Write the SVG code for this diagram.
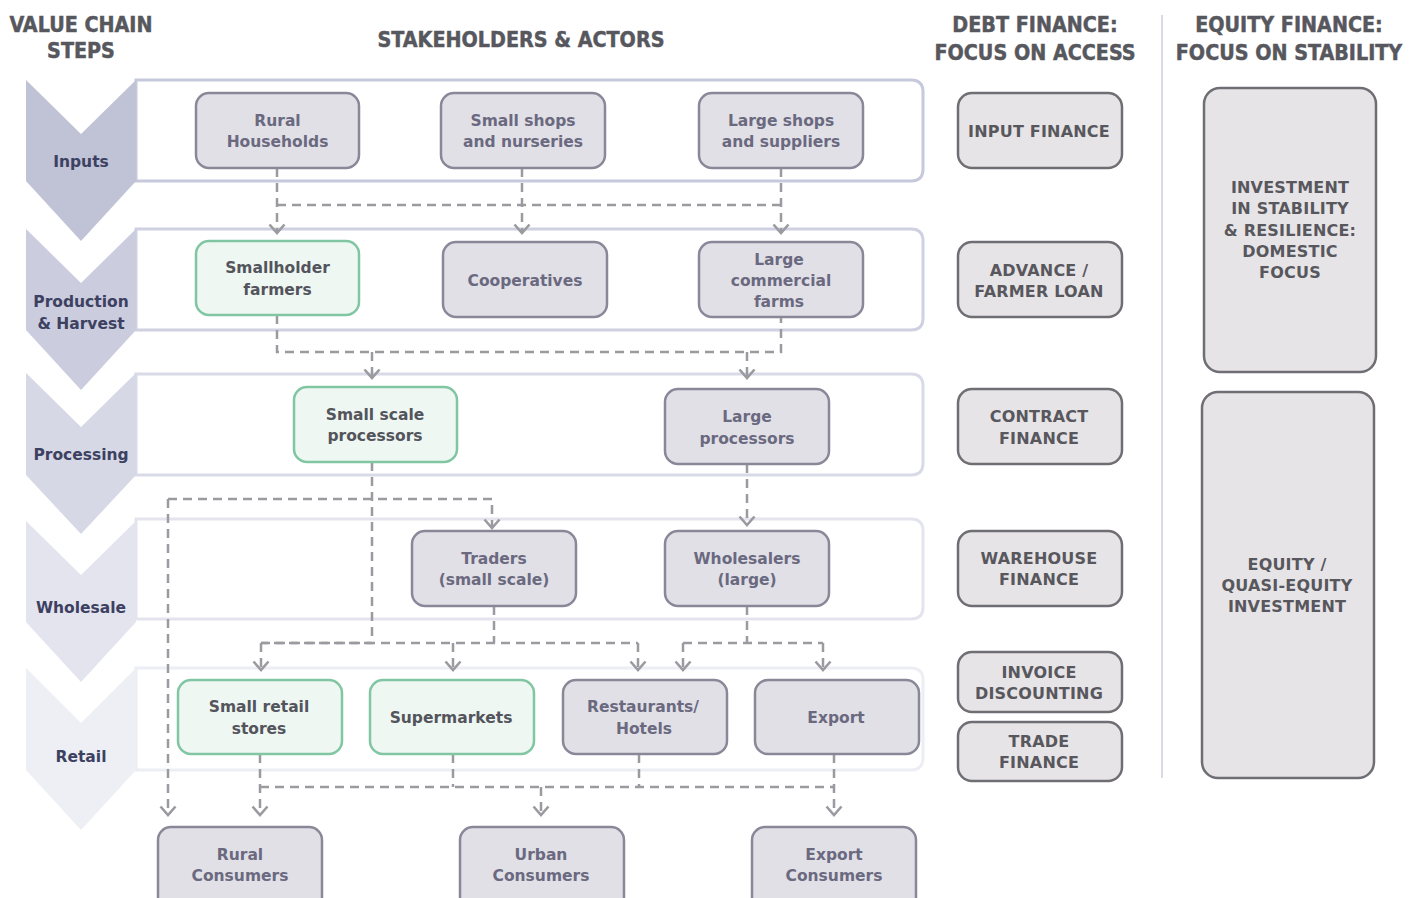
<svg xmlns="http://www.w3.org/2000/svg" width="1421" height="898" viewBox="0 0 1421 898">
  <defs>
    <style>
      .hdr { font-family: "DejaVu Sans Condensed", "DejaVu Sans", sans-serif; font-stretch: condensed; font-weight: bold; font-size: 21.3px; fill: #57575e; stroke: #57575e; stroke-width: 0.45; text-anchor: middle; }
      .step { font-family: "DejaVu Sans", Verdana, sans-serif; font-weight: bold; font-size: 15.5px; fill: #3d4161; text-anchor: middle; }
      .actor rect { fill: #e1e0e6; stroke: #8a8898; stroke-width: 2.5; }
      .actor text { font-family: "DejaVu Sans", Verdana, sans-serif; font-weight: bold; font-size: 15.5px; fill: #6a6980; text-anchor: middle; }
      .actor.green rect { fill: #eef7f2; stroke: #80c6a2; }
      .actor.green text { fill: #53545c; }
      .fin rect { fill: #e6e4e6; stroke: #6f6e74; stroke-width: 2.5; }
      .fin text { font-family: "DejaVu Sans", Verdana, sans-serif; font-weight: bold; font-size: 16px; letter-spacing: 0.2px; fill: #58575d; text-anchor: middle; }
      .band { fill: #ffffff; stroke-width: 3; }
      .flow { fill: none; stroke: #9b9aa1; stroke-width: 2.5; stroke-dasharray: 9 6; }
    </style>
    <marker id="arrow" markerUnits="userSpaceOnUse" markerWidth="20" markerHeight="20" refX="0" refY="0" viewBox="-10 -10 20 20" orient="auto" overflow="visible">
      <path d="M-8.5,-7.5 L0,0 L-8.5,7.5" fill="none" stroke="#9b9aa1" stroke-width="2.6" stroke-linejoin="miter"/>
    </marker>
  </defs>

  <rect width="1421" height="898" fill="#ffffff"/>

  <!-- column headers -->
  <g id="headers">
    <text class="hdr" x="81" y="32">VALUE CHAIN</text>
    <text class="hdr" x="81" y="58">STEPS</text>
    <text class="hdr" x="521" y="47">STAKEHOLDERS &amp; ACTORS</text>
    <text class="hdr" x="1035" y="32">DEBT FINANCE:</text>
    <text class="hdr" x="1035" y="60">FOCUS ON ACCESS</text>
    <text class="hdr" x="1289" y="32">EQUITY FINANCE:</text>
    <text class="hdr" x="1289" y="60">FOCUS ON STABILITY</text>
  </g>

  <line id="divider" x1="1162" y1="15" x2="1162" y2="778" stroke="#d8dae6" stroke-width="2"/>

  <!-- stage bands -->
  <g id="bands">
    <path class="band" stroke="#c6c8db" d="M136,80 H911 Q923,80 923,92 V169 Q923,181 911,181 H136 Z"/>
    <path class="band" stroke="#cfd0e1" d="M136,229 H911 Q923,229 923,241 V318 Q923,330 911,330 H136 Z"/>
    <path class="band" stroke="#d9dae7" d="M136,374 H911 Q923,374 923,386 V463 Q923,475 911,475 H136 Z"/>
    <path class="band" stroke="#e3e4ee" d="M136,519 H911 Q923,519 923,531 V607 Q923,619 911,619 H136 Z"/>
    <path class="band" stroke="#eceef4" d="M136,668 H911 Q923,668 923,680 V758 Q923,770 911,770 H136 Z"/>
  </g>

  <!-- value chain step chevrons -->
  <g id="step-inputs">
    <polygon points="26,80 81,134 136,80 136,181 81,241 26,181" fill="#c0c2d6"/>
    <text class="step" x="81" y="167">Inputs</text>
  </g>
  <g id="step-production">
    <polygon points="26,229 81,283 136,229 136,330 81,390 26,330" fill="#cbccde"/>
    <text class="step" x="81" y="307">Production</text>
    <text class="step" x="81" y="329">&amp; Harvest</text>
  </g>
  <g id="step-processing">
    <polygon points="26,373 81,427 136,373 136,475 81,534 26,475" fill="#d7d8e6"/>
    <text class="step" x="81" y="460">Processing</text>
  </g>
  <g id="step-wholesale">
    <polygon points="26,521 81,575 136,521 136,622 81,682 26,622" fill="#e3e4ee"/>
    <text class="step" x="81" y="613">Wholesale</text>
  </g>
  <g id="step-retail">
    <polygon points="26,668 81,723 136,668 136,770 81,830 26,770" fill="#eeeff5"/>
    <text class="step" x="81" y="762">Retail</text>
  </g>

  <!-- flows between actors -->
  <g id="connectors">
    <path class="flow" d="M277,205 H781"/>
    <path class="flow" d="M277,168 V233" marker-end="url(#arrow)"/>
    <path class="flow" d="M522,168 V233" marker-end="url(#arrow)"/>
    <path class="flow" d="M781,168 V233" marker-end="url(#arrow)"/>

    <path class="flow" d="M277,315 V352 H781 V317"/>
    <path class="flow" d="M372,352 V378" marker-end="url(#arrow)"/>
    <path class="flow" d="M747,352 V378" marker-end="url(#arrow)"/>

    <path class="flow" d="M372,462 V643 H261"/>
    <path class="flow" d="M168,499 H492 V528" marker-end="url(#arrow)"/>
    <path class="flow" d="M168,499 V815" marker-end="url(#arrow)"/>
    <path class="flow" d="M747,464 V525" marker-end="url(#arrow)"/>

    <path class="flow" d="M261,643 H638"/>
    <path class="flow" d="M494,606 V643"/>
    <path class="flow" d="M261,643 V670" marker-end="url(#arrow)"/>
    <path class="flow" d="M453,643 V670" marker-end="url(#arrow)"/>
    <path class="flow" d="M638,643 V670" marker-end="url(#arrow)"/>
    <path class="flow" d="M747,606 V643"/>
    <path class="flow" d="M683,643 H823"/>
    <path class="flow" d="M683,643 V670" marker-end="url(#arrow)"/>
    <path class="flow" d="M823,643 V670" marker-end="url(#arrow)"/>

    <path class="flow" d="M260,754 V815" marker-end="url(#arrow)"/>
    <path class="flow" d="M260,787 H834"/>
    <path class="flow" d="M453,754 V787"/>
    <path class="flow" d="M639,754 V787"/>
    <path class="flow" d="M834,754 V815" marker-end="url(#arrow)"/>
    <path class="flow" d="M541,787 V815" marker-end="url(#arrow)"/>
  </g>

  <!-- inputs -->
  <g id="rural-households" class="actor">
    <rect x="196" y="93" width="163" height="75" rx="13"/>
    <text x="277.5" y="126">Rural</text>
    <text x="277.5" y="147">Households</text>
  </g>
  <g id="small-shops" class="actor">
    <rect x="441" y="93" width="164" height="75" rx="13"/>
    <text x="523" y="126">Small shops</text>
    <text x="523" y="147">and nurseries</text>
  </g>
  <g id="large-shops" class="actor">
    <rect x="699" y="93" width="164" height="75" rx="13"/>
    <text x="781" y="126">Large shops</text>
    <text x="781" y="147">and suppliers</text>
  </g>

  <!-- production -->
  <g id="smallholder-farmers" class="actor green">
    <rect x="196" y="241" width="163" height="74" rx="13"/>
    <text x="277.5" y="273">Smallholder</text>
    <text x="277.5" y="295">farmers</text>
  </g>
  <g id="cooperatives" class="actor">
    <rect x="443" y="242" width="164" height="75" rx="13"/>
    <text x="525" y="286">Cooperatives</text>
  </g>
  <g id="large-farms" class="actor">
    <rect x="699" y="242" width="164" height="75" rx="13"/>
    <text x="779" y="265">Large</text>
    <text x="781" y="286">commercial</text>
    <text x="779" y="307">farms</text>
  </g>

  <!-- processing -->
  <g id="small-processors" class="actor green">
    <rect x="294" y="387" width="163" height="75" rx="13"/>
    <text x="375" y="420">Small scale</text>
    <text x="375" y="441">processors</text>
  </g>
  <g id="large-processors" class="actor">
    <rect x="665" y="389" width="164" height="75" rx="13"/>
    <text x="747" y="422">Large</text>
    <text x="747" y="444">processors</text>
  </g>

  <!-- wholesale -->
  <g id="traders" class="actor">
    <rect x="412" y="531" width="164" height="75" rx="13"/>
    <text x="494" y="564">Traders</text>
    <text x="494" y="585">(small scale)</text>
  </g>
  <g id="wholesalers" class="actor">
    <rect x="665" y="531" width="164" height="75" rx="13"/>
    <text x="747" y="564">Wholesalers</text>
    <text x="747" y="585">(large)</text>
  </g>

  <!-- retail -->
  <g id="small-retail" class="actor green">
    <rect x="178" y="680" width="164" height="74" rx="13"/>
    <text x="259" y="712">Small retail</text>
    <text x="259" y="734">stores</text>
  </g>
  <g id="supermarkets" class="actor green">
    <rect x="370" y="680" width="164" height="74" rx="13"/>
    <text x="451" y="723">Supermarkets</text>
  </g>
  <g id="restaurants" class="actor">
    <rect x="563" y="680" width="164" height="74" rx="13"/>
    <text x="643" y="712">Restaurants/</text>
    <text x="644" y="734">Hotels</text>
  </g>
  <g id="export" class="actor">
    <rect x="755" y="680" width="164" height="74" rx="13"/>
    <text x="836" y="723">Export</text>
  </g>

  <!-- consumers -->
  <g id="rural-consumers" class="actor">
    <rect x="158" y="827" width="164" height="85" rx="13"/>
    <text x="240" y="860">Rural</text>
    <text x="240" y="881">Consumers</text>
  </g>
  <g id="urban-consumers" class="actor">
    <rect x="460" y="827" width="164" height="85" rx="13"/>
    <text x="541" y="860">Urban</text>
    <text x="541" y="881">Consumers</text>
  </g>
  <g id="export-consumers" class="actor">
    <rect x="752" y="827" width="164" height="85" rx="13"/>
    <text x="834" y="860">Export</text>
    <text x="834" y="881">Consumers</text>
  </g>

  <!-- debt finance -->
  <g id="input-finance" class="fin">
    <rect x="958" y="93" width="164" height="75" rx="14"/>
    <text x="1039" y="137">INPUT FINANCE</text>
  </g>
  <g id="advance-loan" class="fin">
    <rect x="958" y="242" width="164" height="75" rx="14"/>
    <text x="1039" y="276">ADVANCE /</text>
    <text x="1039" y="297">FARMER LOAN</text>
  </g>
  <g id="contract-finance" class="fin">
    <rect x="958" y="389" width="164" height="75" rx="14"/>
    <text x="1039" y="422">CONTRACT</text>
    <text x="1039" y="444">FINANCE</text>
  </g>
  <g id="warehouse-finance" class="fin">
    <rect x="958" y="531" width="164" height="75" rx="14"/>
    <text x="1039" y="564">WAREHOUSE</text>
    <text x="1039" y="585">FINANCE</text>
  </g>
  <g id="invoice-discounting" class="fin">
    <rect x="958" y="652" width="164" height="60" rx="14"/>
    <text x="1039" y="678">INVOICE</text>
    <text x="1039" y="699">DISCOUNTING</text>
  </g>
  <g id="trade-finance" class="fin">
    <rect x="958" y="722" width="164" height="59" rx="14"/>
    <text x="1039" y="747">TRADE</text>
    <text x="1039" y="768">FINANCE</text>
  </g>

  <!-- equity finance -->
  <g id="stability-investment" class="fin">
    <rect x="1204" y="88" width="172" height="284" rx="16"/>
    <text x="1290" y="193">INVESTMENT</text>
    <text x="1290" y="214">IN STABILITY</text>
    <text x="1290" y="236">&amp; RESILIENCE:</text>
    <text x="1290" y="257">DOMESTIC</text>
    <text x="1290" y="278">FOCUS</text>
  </g>
  <g id="equity-investment" class="fin">
    <rect x="1202" y="392" width="172" height="386" rx="16"/>
    <text x="1287" y="570">EQUITY /</text>
    <text x="1287" y="591">QUASI-EQUITY</text>
    <text x="1287" y="612">INVESTMENT</text>
  </g>
</svg>
